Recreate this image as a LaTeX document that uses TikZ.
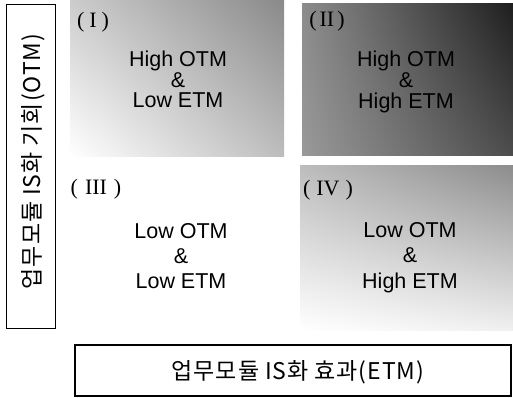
\documentclass[tikz,border=0pt]{standalone}
\usepackage{fontspec}
\usetikzlibrary{shadings}
\setmainfont{Liberation Sans}
\newfontfamily\romanfont{Liberation Serif}
\newfontfamily\kr[LetterSpace=4]{Noto Sans CJK KR}
\begin{document}
\begin{tikzpicture}[x=1pt,y=-1pt,
  lbl/.style={anchor=base,font=\fontsize{21.5}{22}\selectfont,inner sep=0pt},
  num/.style={anchor=base,font=\romanfont\fontsize{22}{22}\selectfont,inner sep=0pt},
  axisbox/.style={draw,line width=1.7pt,inner sep=0pt},
  axistext/.style={inner sep=0pt,font=\kr\fontsize{23}{24}\selectfont}]
\useasboundingbox (0,0) rectangle (513,398);
% quadrant shadings
\shade[upper left=black!20, upper right=black!46, lower left=white, lower right=black!26] (70,0) rectangle (284,156);
\shade[upper left=black!45, upper right=black!88, lower left=black!40, lower right=black!70] (302,4) rectangle (513,155);
\shade[upper left=black!26, upper right=black!45, lower left=white, lower right=black!6] (300,165) rectangle (513,330);
% axis boxes
\node[axisbox,minimum width=49pt,minimum height=324pt] (otm) at (31,166.5) {};
\node[axistext,rotate=90] (otmtext) at (33,161.5) {업무모듈 IS화 기회(OTM)};
\node[axisbox,minimum width=436pt,minimum height=51pt] (etm) at (293,370.5) {};
\node[axistext] (etmtext) at (298,372) {업무모듈 IS화 효과(ETM)};
% quadrant I
\node[num] (n1) at (93,28) {(\hspace{5pt}I\hspace{5pt})};
\node[lbl] (a1) at (178,66.5) {High OTM};
\node[lbl] (b1) at (178,87.5) {\&};
\node[lbl] (c1) at (178,107.5) {Low ETM};
% quadrant II
\node[num] (n2) at (327,27) {(\hspace{3pt}II\hspace{3pt})};
\node[lbl] (a2) at (406,66.5) {High OTM};
\node[lbl] (b2) at (406,88) {\&};
\node[lbl] (c2) at (406,108.5) {High ETM};
% quadrant III
\node[num] (n3) at (96,194) {(\hspace{7pt}III\hspace{7pt})};
\node[lbl] (a3) at (181,238) {Low OTM};
\node[lbl] (b3) at (181,263) {\&};
\node[lbl] (c3) at (181,288) {Low ETM};
% quadrant IV
\node[num] (n4) at (328,195) {(\hspace{6pt}IV\hspace{6pt})};
\node[lbl] (a4) at (410,237) {Low OTM};
\node[lbl] (b4) at (410,262) {\&};
\node[lbl] (c4) at (410,288) {High ETM};
\end{tikzpicture}
\end{document}
